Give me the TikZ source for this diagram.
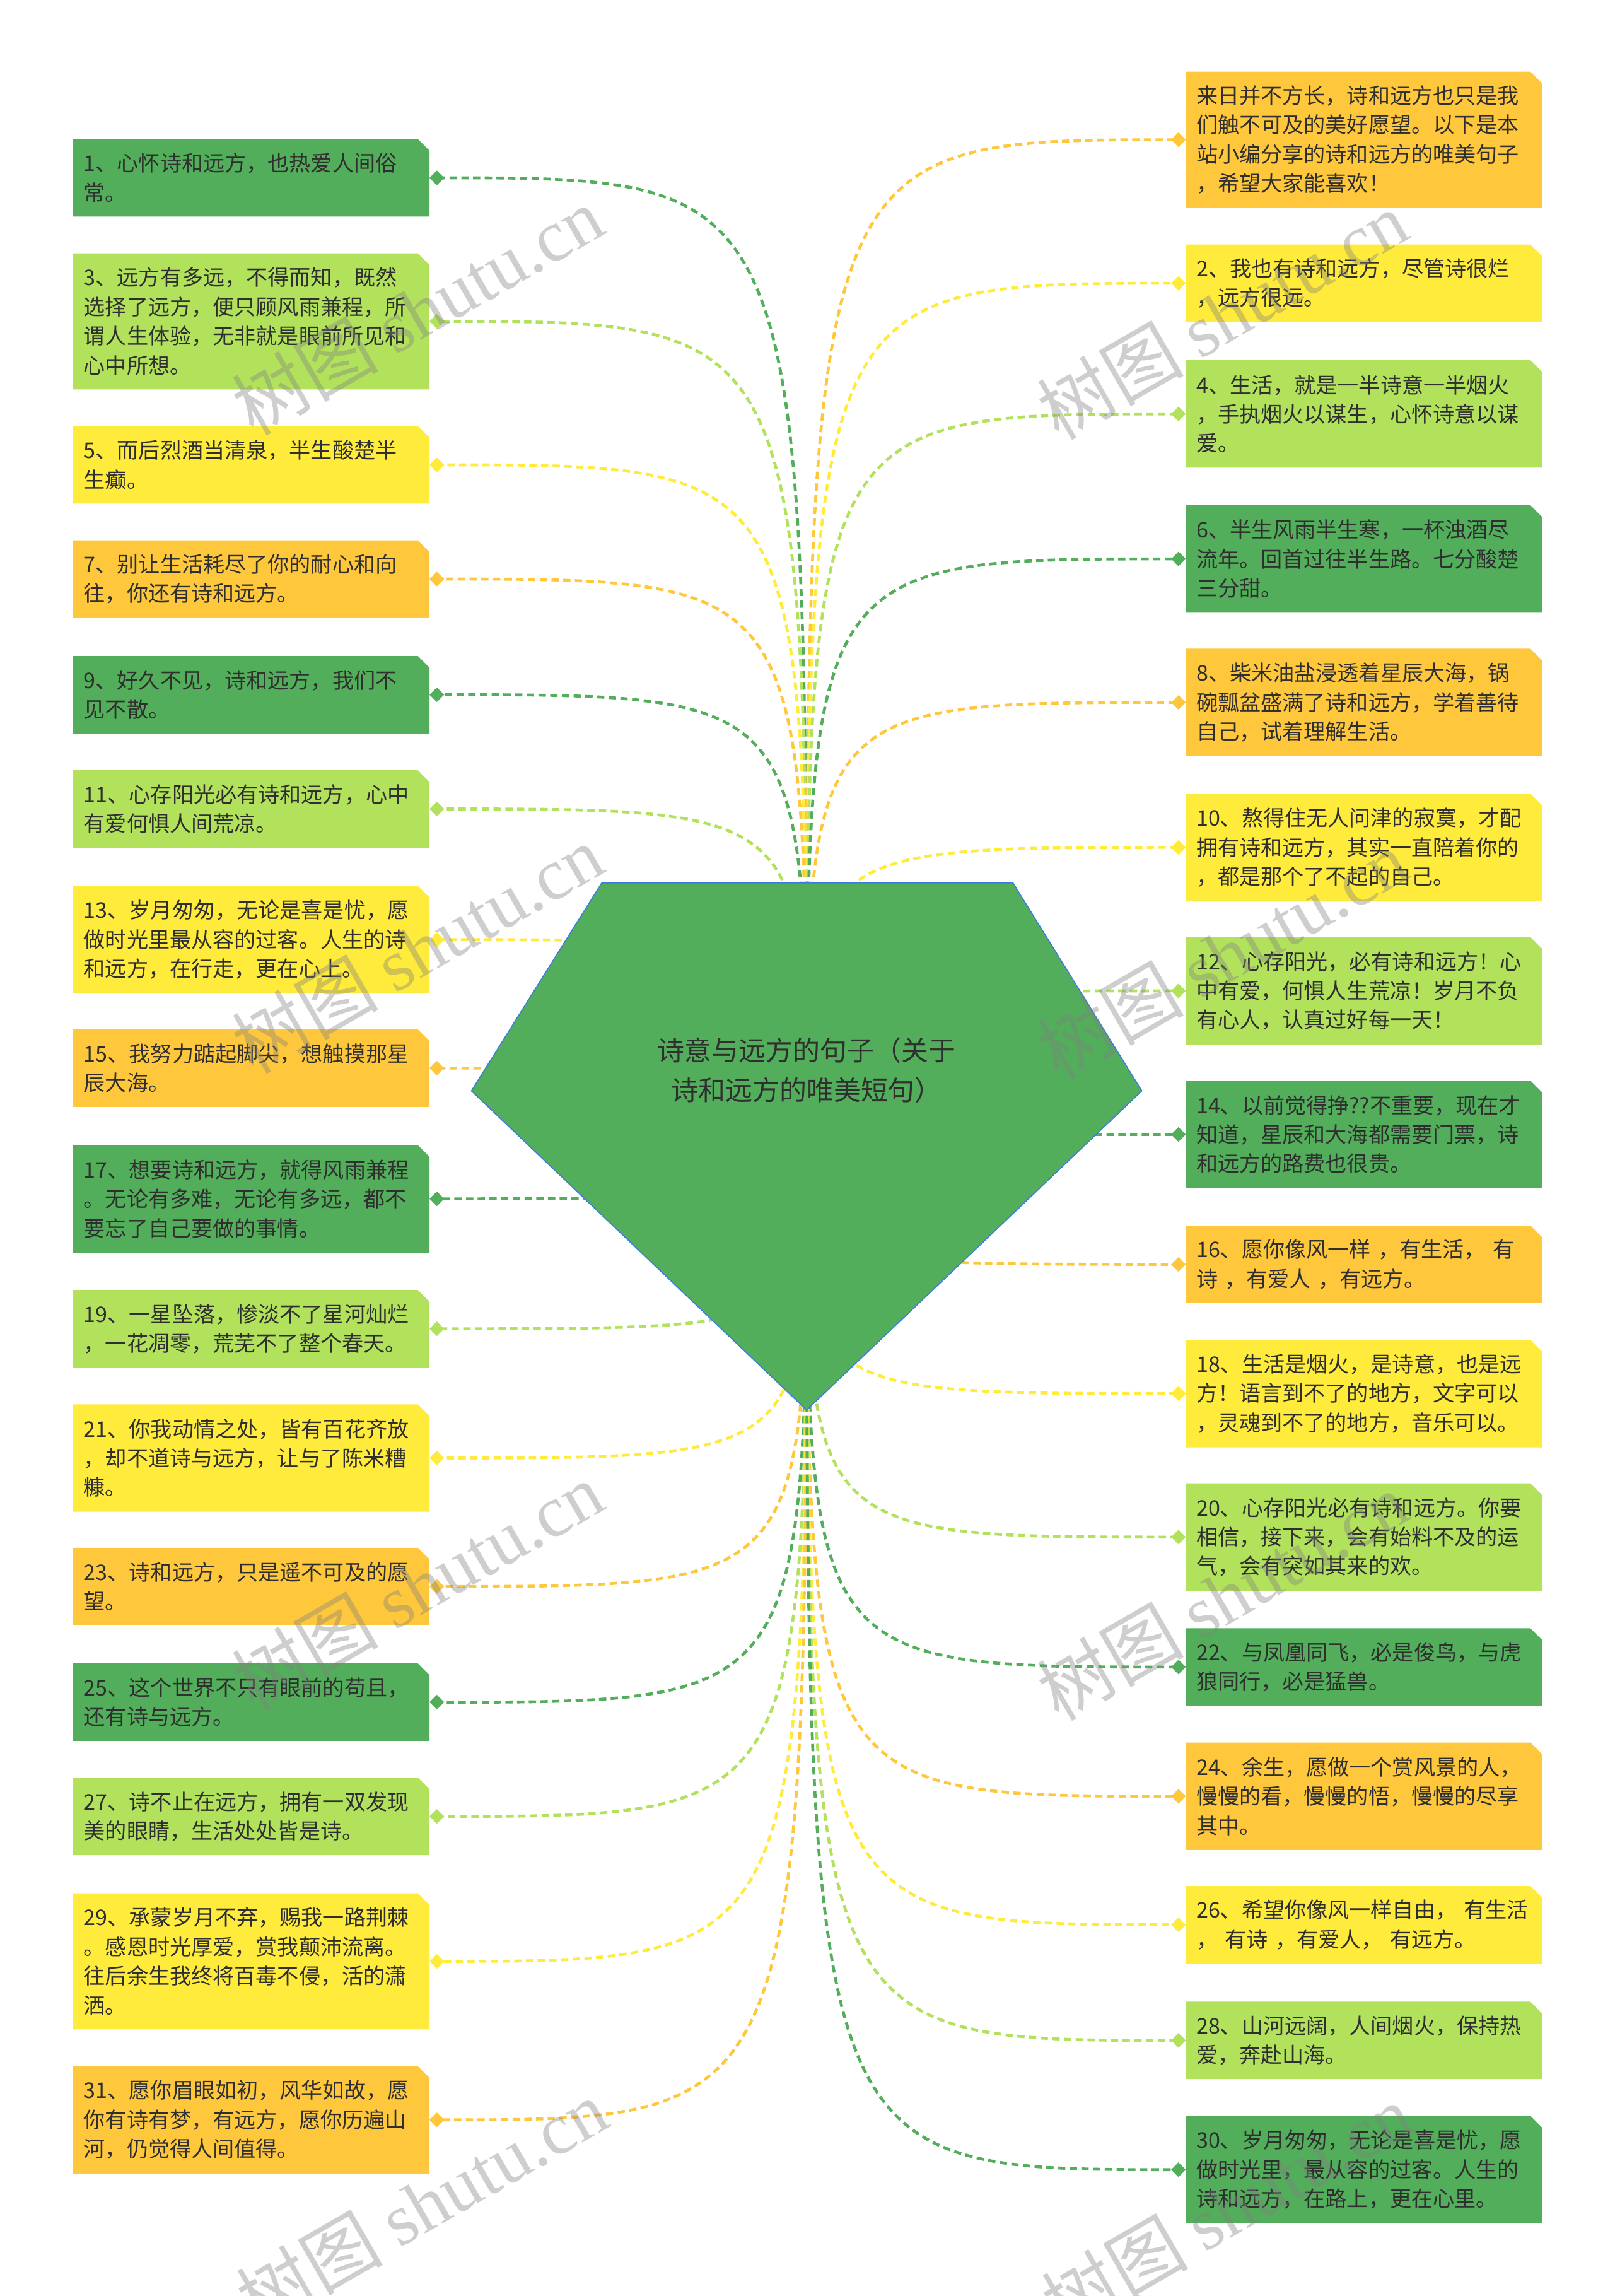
\documentclass[tikz,border=0pt]{standalone}
\usepackage{fontspec}
\setmainfont{Noto Sans CJK SC}
\newfontfamily\wmserif{Liberation Serif}
\usetikzlibrary{arrows.meta}
\pgfdeclarelayer{bg}
\pgfdeclarelayer{lines}
\pgfdeclarelayer{wm}
\pgfsetlayers{bg,lines,main,wm}
\definecolor{dkg}{HTML}{52AE5A}
\definecolor{ltg}{HTML}{B2E25C}
\definecolor{yel}{HTML}{FFEB3B}
\definecolor{org}{HTML}{FFC83C}
\definecolor{txt}{HTML}{2F2F2F}
\definecolor{bord}{HTML}{3B7DD8}
\tikzset{
  qtext/.style={anchor=north west, inner xsep=7pt, inner ysep=0pt, text width=229pt,
    align=left, font=\fontsize{14.7pt}{20pt}\selectfont, text=txt},
  conn/.style={line width=2pt, dash pattern=on 5pt off 3pt, -{Diamond[length=10pt,width=10pt]}},
  roottext/.style={align=center, font=\fontsize{18.5pt}{27pt}\selectfont, text=txt},
  wmark/.style={rotate=30, text=black!50, text opacity=0.38, font=\fontsize{50pt}{50pt}\selectfont},
  rootshape/.style={fill=dkg, draw=bord, line width=0.7pt},
}
\newcommand\qbox[7]{%
  \node[qtext, minimum height=#4pt] (#1) at (#2,#3) {#7};
  \begin{pgfonlayer}{bg}
    \fill[#5] (#1.north west) -- ([xshift=-8pt]#1.north east) -- ([yshift=-8pt]#1.north east)
      -- (#1.south east) -- (#1.south west) -- cycle;
  \end{pgfonlayer}
  \begin{pgfonlayer}{lines}
    \draw[conn, draw=#5] (hub) .. controls (hub |- #1.#6) .. (#1.#6);
  \end{pgfonlayer}
}
\begin{document}
\begin{tikzpicture}[x=1pt, y=-1pt]
\begin{pgfonlayer}{bg}
  \fill[white] (0,0) rectangle (1103,1568);
\end{pgfonlayer}
\useasboundingbox (0,0) rectangle (1103,1568);
\coordinate (hub) at (551,783);

% left column
\qbox{L1}{50}{95}{52.5}{dkg}{east}{1、心怀诗和远方，也热爱人间俗\\常。}
\qbox{L3}{50}{173}{92.5}{ltg}{east}{3、远方有多远，不得而知，既然\\选择了远方，便只顾风雨兼程，所\\谓人生体验，无非就是眼前所见和\\心中所想。}
\qbox{L5}{50}{291}{52.5}{yel}{east}{5、而后烈酒当清泉，半生酸楚半\\生癫。}
\qbox{L7}{50}{369}{52.5}{org}{east}{7、别让生活耗尽了你的耐心和向\\往，你还有诗和远方。}
\qbox{L9}{50}{448}{52.5}{dkg}{east}{9、好久不见，诗和远方，我们不\\见不散。}
\qbox{L11}{50}{526}{52.5}{ltg}{east}{11、心存阳光必有诗和远方，心中\\有爱何惧人间荒凉。}
\qbox{L13}{50}{605}{73}{yel}{east}{13、岁月匆匆，无论是喜是忧，愿\\做时光里最从容的过客。人生的诗\\和远方，在行走，更在心上。}
\qbox{L15}{50}{703}{52.5}{org}{east}{15、我努力踮起脚尖，想触摸那星\\辰大海。}
\qbox{L17}{50}{782}{73}{dkg}{east}{17、想要诗和远方，就得风雨兼程\\。无论有多难，无论有多远，都不\\要忘了自己要做的事情。}
\qbox{L19}{50}{881}{52.5}{ltg}{east}{19、一星坠落，惨淡不了星河灿烂\\，一花凋零，荒芜不了整个春天。}
\qbox{L21}{50}{959}{73}{yel}{east}{21、你我动情之处，皆有百花齐放\\，却不道诗与远方，让与了陈米糟\\糠。}
\qbox{L23}{50}{1057}{52.5}{org}{east}{23、诗和远方，只是遥不可及的愿\\望。}
\qbox{L25}{50}{1136}{52.5}{dkg}{east}{25、这个世界不只有眼前的苟且，\\还有诗与远方。}
\qbox{L27}{50}{1214}{52.5}{ltg}{east}{27、诗不止在远方，拥有一双发现\\美的眼睛，生活处处皆是诗。}
\qbox{L29}{50}{1293}{92.5}{yel}{east}{29、承蒙岁月不弃，赐我一路荆棘\\。感恩时光厚爱，赏我颠沛流离。\\往后余生我终将百毒不侵，活的潇\\洒。}
\qbox{L31}{50}{1411}{73}{org}{east}{31、愿你眉眼如初，风华如故，愿\\你有诗有梦，有远方，愿你历遍山\\河，仍觉得人间值得。}

% right column
\qbox{R0}{810}{49}{92.5}{org}{west}{来日并不方长，诗和远方也只是我\\们触不可及的美好愿望。以下是本\\站小编分享的诗和远方的唯美句子\\，希望大家能喜欢！}
\qbox{R2}{810}{167}{52.5}{yel}{west}{2、我也有诗和远方，尽管诗很烂\\，远方很远。}
\qbox{R4}{810}{246}{73}{ltg}{west}{4、生活，就是一半诗意一半烟火\\，手执烟火以谋生，心怀诗意以谋\\爱。}
\qbox{R6}{810}{345}{73}{dkg}{west}{6、半生风雨半生寒，一杯浊酒尽\\流年。回首过往半生路。七分酸楚\\三分甜。}
\qbox{R8}{810}{443}{73}{org}{west}{8、柴米油盐浸透着星辰大海，锅\\碗瓢盆盛满了诗和远方，学着善待\\自己，试着理解生活。}
\qbox{R10}{810}{542}{73}{yel}{west}{10、熬得住无人问津的寂寞，才配\\拥有诗和远方，其实一直陪着你的\\，都是那个了不起的自己。}
\qbox{R12}{810}{640}{73}{ltg}{west}{12、心存阳光，必有诗和远方！心\\中有爱，何惧人生荒凉！岁月不负\\有心人，认真过好每一天！}
\qbox{R14}{810}{738}{73}{dkg}{west}{14、以前觉得挣??不重要，现在才\\知道，星辰和大海都需要门票，诗\\和远方的路费也很贵。}
\qbox{R16}{810}{837}{52.5}{org}{west}{16、愿你像风一样 ，有生活， 有\\诗 ，有爱人 ，有远方。}
\qbox{R18}{810}{915}{73}{yel}{west}{18、生活是烟火，是诗意，也是远\\方！语言到不了的地方，文字可以\\，灵魂到不了的地方，音乐可以。}
\qbox{R20}{810}{1013}{73}{ltg}{west}{20、心存阳光必有诗和远方。你要\\相信，接下来，会有始料不及的运\\气，会有突如其来的欢。}
\qbox{R22}{810}{1112}{52.5}{dkg}{west}{22、与凤凰同飞，必是俊鸟，与虎\\狼同行，必是猛兽。}
\qbox{R24}{810}{1190}{73}{org}{west}{24、余生，愿做一个赏风景的人，\\慢慢的看，慢慢的悟，慢慢的尽享\\其中。}
\qbox{R26}{810}{1288}{52.5}{yel}{west}{26、希望你像风一样自由， 有生活\\， 有诗 ，有爱人， 有远方。}
\qbox{R28}{810}{1367}{52.5}{ltg}{west}{28、山河远阔，人间烟火，保持热\\爱，奔赴山海。}
\qbox{R30}{810}{1445}{73}{dkg}{west}{30、岁月匆匆，无论是喜是忧，愿\\做时光里，最从容的过客。人生的\\诗和远方，在路上，更在心里。}

% central shape
\path[rootshape] (411,603) -- (692,603) -- (780,745) -- (551,963) -- (322,745) -- cycle;
\node[roottext] (root) at (551,731) {诗意与远方的句子（关于\\诗和远方的唯美短句）};

% watermarks
\begin{pgfonlayer}{wm}
  \node[wmark] (wm1) at (285,212) {树图 {\wmserif shutu.cn}};
  \node[wmark] (wm2) at (285,648) {树图 {\wmserif shutu.cn}};
  \node[wmark] (wm3) at (285,1083) {树图 {\wmserif shutu.cn}};
  \node[wmark] (wm4) at (288,1505) {树图 {\wmserif shutu.cn}};
  \node[wmark] (wm5) at (835,215) {树图 {\wmserif shutu.cn}};
  \node[wmark] (wm6) at (835,652) {树图 {\wmserif shutu.cn}};
  \node[wmark] (wm7) at (835,1090) {树图 {\wmserif shutu.cn}};
  \node[wmark] (wm8) at (838,1508) {树图 {\wmserif shutu.cn}};
\end{pgfonlayer}
\end{tikzpicture}
\end{document}
